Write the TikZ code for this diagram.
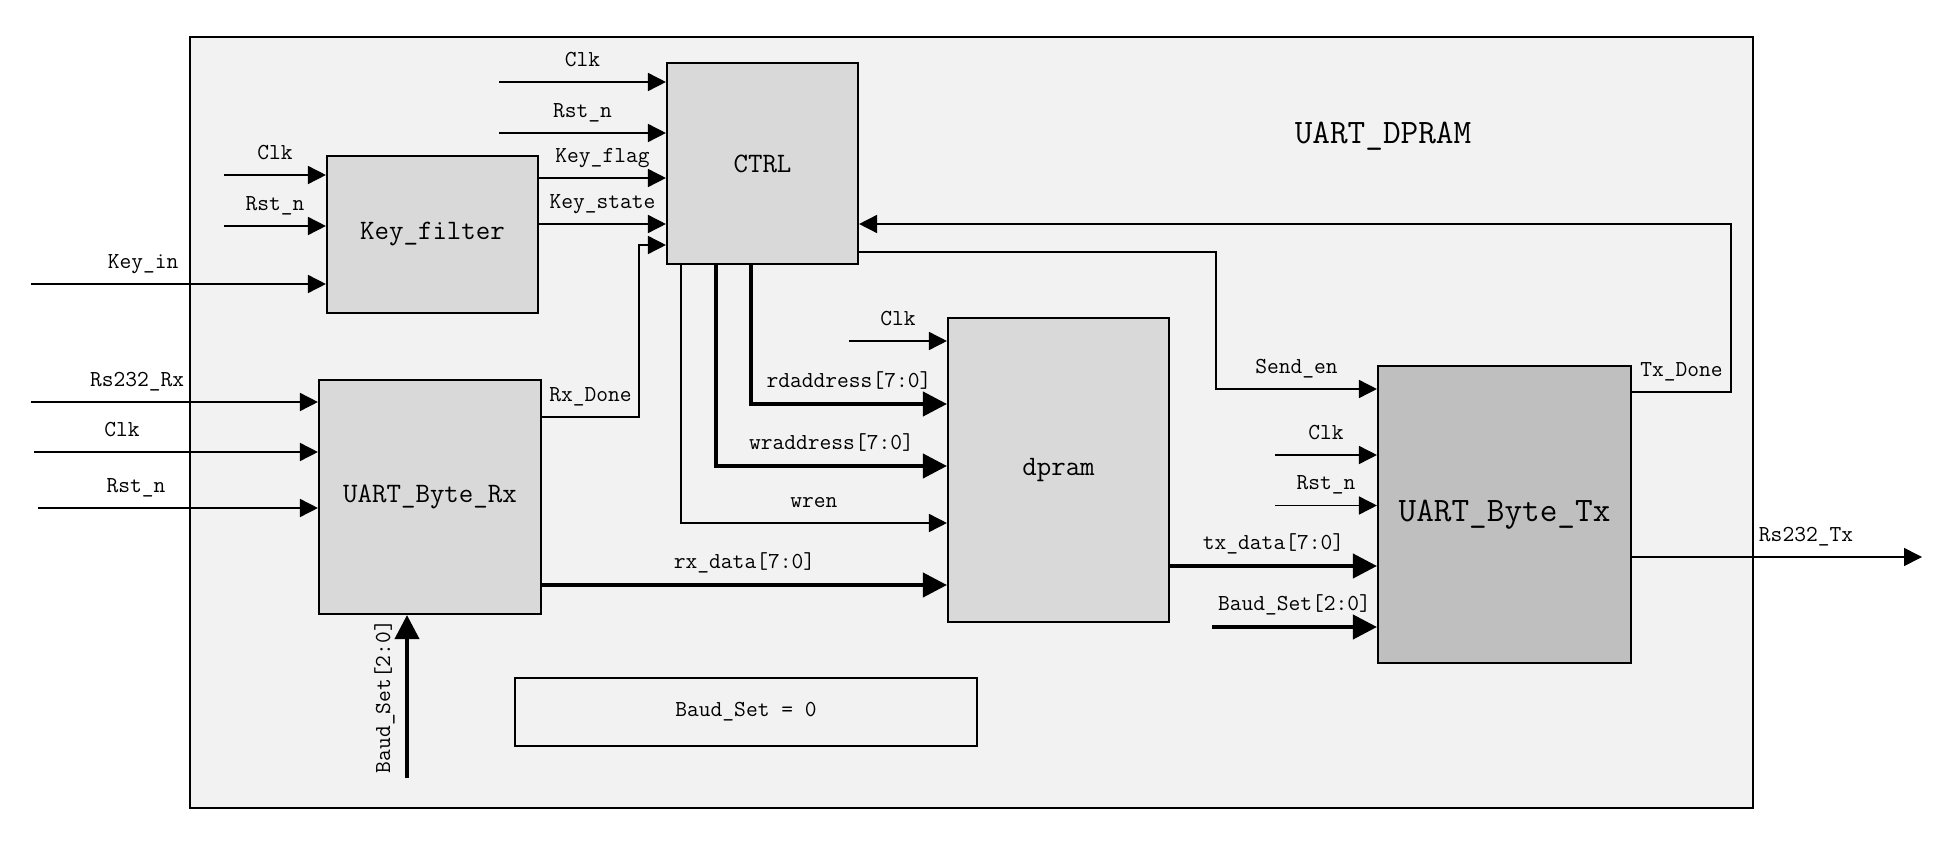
\documentclass[tikz,border=0pt]{standalone}
\usepackage{tikz}
\usetikzlibrary{arrows.meta}
\usetikzlibrary{positioning}

\definecolor{bggray}{HTML}{F2F2F2}
\definecolor{boxgray}{HTML}{D9D9D9}
\definecolor{txgray}{HTML}{BFBFBF}

\begin{document}
\begin{tikzpicture}[x=0.2mm,y=-0.2mm,
  blk/.style={draw,line width=1.2pt,fill=boxgray,font=\ttfamily\fontsize{16}{18}\selectfont},
  sig/.style={line width=0.9pt,-{Triangle[length=3.6mm,width=3.6mm]}},
  bus/.style={line width=2.3pt,-{Triangle[length=4.8mm,width=4.8mm]}},
  lbl/.style={font=\ttfamily\fontsize{13}{15}\selectfont,text height=8pt,text depth=2pt,inner sep=2pt,above=4.5pt}]

 \useasboundingbox (0,0) rectangle (1942,850);

 \node[draw,line width=1.1pt,fill=bggray,minimum width=312.6mm,minimum height=154.2mm,name=top] at (971.5,422.5) {};
 \node[font=\ttfamily\fontsize{19.5}{22}\selectfont,name=title] at (1383,136) {UART\_DPRAM};

 \node[blk,minimum width=42.2mm,minimum height=31.4mm,name=kf]   at (432.5,234.5) {Key\_filter};
 \node[blk,minimum width=38.2mm,minimum height=40.2mm,name=ctrl] at (762.5,163.5) {CTRL};
 \node[blk,minimum width=44.4mm,minimum height=46.8mm,name=rx]   at (430,497)     {UART\_Byte\_Rx};
 \node[blk,minimum width=44.2mm,minimum height=60.8mm,name=dp]   at (1058.5,470)  {dpram};
 \node[blk,fill=txgray,minimum width=50.6mm,minimum height=59.4mm,
       font=\ttfamily\fontsize{19.5}{22}\selectfont,name=tx]     at (1504.5,514.5) {UART\_Byte\_Tx};
 \node[draw,line width=0.9pt,minimum width=92.4mm,minimum height=13.6mm,
       font=\ttfamily\fontsize{13}{15}\selectfont,name=baud]     at (746,712)     {Baud\_Set = 0};

 \coordinate (kfclk) at (224,175);
 \coordinate (kfrst) at (224,226);
 \coordinate (keyin) at (31,284);
 \coordinate (rsrx)  at (31,402);
 \coordinate (rxclk) at (34,452);
 \coordinate (rxrst) at (38,508);
 \coordinate (ctclk) at (499,82);
 \coordinate (ctrst) at (499,133);
 \coordinate (kff)   at (600,178);
 \coordinate (kfs)   at (600,224);
 \coordinate (rxd1)  at (639,417);
 \coordinate (rxd2)  at (639,245);
 \coordinate (wr0)   at (681,523);
 \coordinate (wa0)   at (716,466);
 \coordinate (rd0)   at (751,404);
 \coordinate (dpclk) at (849,341);
 \coordinate (rxdat) at (744,585);
 \coordinate (brx)   at (407,778);
 \coordinate (se1)   at (1216,252);
 \coordinate (se2)   at (1216,389);
 \coordinate (td1)   at (1731,392);
 \coordinate (td2)   at (1731,224);
 \coordinate (txclk) at (1275,455);
 \coordinate (txrst) at (1275,505.5);
 \coordinate (txd)   at (1300,566);
 \coordinate (btx)   at (1212,627);
 \coordinate (rstx)  at (1922,557);

 \draw[sig] (kfclk) -- node[lbl] (l1) {Clk}   (kfclk -| kf.west);
 \draw[sig] (kfrst) -- node[lbl] (l2) {Rst\_n} (kfrst -| kf.west);
 \draw[sig] (keyin) -- node[lbl,pos=0.38] (l3) {Key\_in} (keyin -| kf.west);

 \draw[sig] (rsrx)  -- node[lbl,pos=0.37] (l4) {Rs232\_Rx} (rsrx -| rx.west);
 \draw[sig] (rxclk) -- node[lbl,pos=0.31] (l5) {Clk}       (rxclk -| rx.west);
 \draw[sig] (rxrst) -- node[lbl,pos=0.35] (l6) {Rst\_n}     (rxrst -| rx.west);

 \draw[sig] (ctclk) -- node[lbl] (l7) {Clk}   (ctclk -| ctrl.west);
 \draw[sig] (ctrst) -- node[lbl] (l8) {Rst\_n} (ctrst -| ctrl.west);
 \draw[sig] (kf.east |- kff) -- node[lbl] (l9)  {Key\_flag}  (ctrl.west |- kff);
 \draw[sig] (kf.east |- kfs) -- node[lbl] (l10) {Key\_state} (ctrl.west |- kfs);
 \draw[sig] (rx.east |- rxd1) -- node[lbl] (l11) {Rx\_Done} (rxd1) -- (rxd2) -- (rxd2 -| ctrl.west);

 \draw[sig] (wr0 |- ctrl.south) -- (wr0) -- node[lbl] (l12) {wren} (wr0 -| dp.west);
 \draw[bus] (wa0 |- ctrl.south) -- (wa0) -- node[lbl] (l13) {wraddress[7:0]} (wa0 -| dp.west);
 \draw[bus] (rd0 |- ctrl.south) -- (rd0) -- node[lbl] (l14) {rdaddress[7:0]} (rd0 -| dp.west);
 \draw[sig] (dpclk) -- node[lbl] (l15) {Clk} (dpclk -| dp.west);
 \draw[bus] (rx.east |- rxdat) -- node[lbl] (l16) {rx\_data[7:0]} (dp.west |- rxdat);
 \draw[bus] (brx) -- node[lbl,sloped] (l17) {Baud\_Set[2:0]} (brx |- rx.south);

 \draw[sig] (ctrl.east |- se1) -- (se1) -- (se2) -- node[lbl] (l18) {Send\_en} (se2 -| tx.west);
 \draw[sig] (tx.east |- td1) -- node[lbl] (l19) {Tx\_Done} (td1) -- (td2) -- (td2 -| ctrl.east);
 \draw[sig] (txclk) -- node[lbl] (l20) {Clk}   (txclk -| tx.west);
 \draw[sig] (txrst) -- node[lbl] (l21) {Rst\_n} (txrst -| tx.west);
 \draw[bus] (dp.east |- txd) -- node[lbl] (l22) {tx\_data[7:0]} (tx.west |- txd);
 \draw[bus] (btx) -- node[lbl] (l23) {Baud\_Set[2:0]} (btx -| tx.west);
 \draw[sig] (tx.east |- rstx) -- node[lbl,pos=0.6] (l24) {Rs232\_Tx} (rstx);

\end{tikzpicture}
\end{document}
